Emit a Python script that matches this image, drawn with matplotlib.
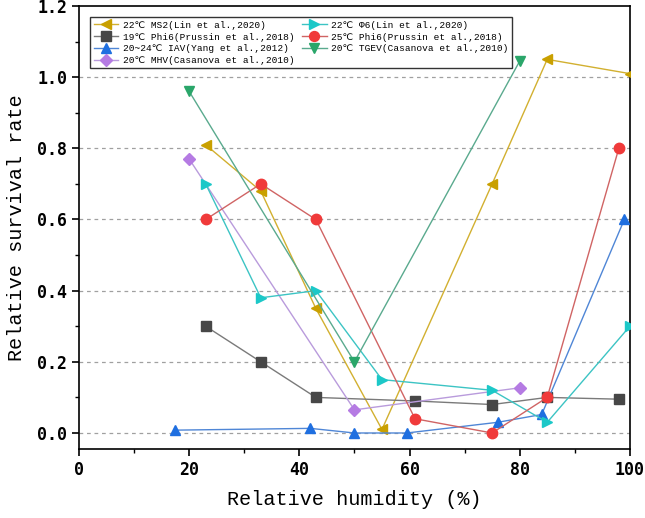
import matplotlib
matplotlib.use("Agg")
import matplotlib.pyplot as plt
from matplotlib.ticker import MultipleLocator

plt.rcParams['font.family'] = ['Liberation Mono', 'DejaVu Sans Mono', 'DejaVu Sans']

# Data
ms2_x = [23, 33, 43, 55, 75, 85, 100]
ms2_y = [0.81, 0.68, 0.35, 0.01, 0.70, 1.05, 1.01]

phi6_19_x = [23, 33, 43, 61, 75, 85, 98]
phi6_19_y = [0.30, 0.20, 0.10, 0.09, 0.08, 0.10, 0.095]

iav_x = [17.5, 42, 50, 59.5, 76, 84, 99]
iav_y = [0.008, 0.013, 0.0, 0.0, 0.03, 0.052, 0.60]

mhv_x = [20, 50, 80]
mhv_y = [0.77, 0.065, 0.127]

phi6_lin_x = [23, 33, 43, 55, 75, 85, 100]
phi6_lin_y = [0.70, 0.38, 0.40, 0.15, 0.12, 0.03, 0.30]

phi6_25_x = [23, 33, 43, 61, 75, 85, 98]
phi6_25_y = [0.60, 0.70, 0.60, 0.04, 0.0, 0.10, 0.80]

tgev_x = [20, 50, 80]
tgev_y = [0.96, 0.20, 1.045]

series = [
    (ms2_x, ms2_y, '22℃ MS2(Lin et al.,2020)', '<', '#C9A000', '#D2B030'),
    (phi6_19_x, phi6_19_y, '19℃ Phi6(Prussin et al.,2018)', 's', '#474747', '#7A7A7A'),
    (iav_x, iav_y, '20~24℃ IAV(Yang et al.,2012)', '^', '#1F6FE0', '#4F86D6'),
    (mhv_x, mhv_y, '20℃ MHV(Casanova et al.,2010)', 'D', '#B57BE3', '#B99BDC'),
    (phi6_lin_x, phi6_lin_y, '22℃ Φ6(Lin et al.,2020)', '>', '#1CC8C8', '#3CC4C4'),
    (phi6_25_x, phi6_25_y, '25℃ Phi6(Prussin et al.,2018)', 'o', '#F03A3A', '#D06464'),
    (tgev_x, tgev_y, '20℃ TGEV(Casanova et al.,2010)', 'v', '#2AA66A', '#5AAA8E'),
]

fig = plt.figure(figsize=(6.45, 5.18), dpi=100)
ax = fig.add_axes([0.1225, 0.1332, 0.854, 0.8552])

for x, y, label, marker, mcolor, lcolor in series:
    ms = 6 if marker == 'D' else 7.5
    ax.plot(x, y, color=lcolor, linewidth=1.0, marker=marker, markersize=ms,
            markerfacecolor=mcolor, markeredgecolor=mcolor, label=label, zorder=3)

ax.set_xlim(0, 100)
ax.set_ylim(-0.045, 1.2)
ax.xaxis.set_major_locator(MultipleLocator(20))
ax.xaxis.set_minor_locator(MultipleLocator(10))
ax.set_yticks([0.0, 0.2, 0.4, 0.6, 0.8, 1.0, 1.2])
ax.yaxis.set_minor_locator(MultipleLocator(0.1))
ax.tick_params(which='major', direction='out', length=5, width=1.2, labelsize=12)
ax.tick_params(which='minor', direction='out', length=3, width=1.0)
for lbl in ax.get_xticklabels() + ax.get_yticklabels():
    lbl.set_fontfamily(['DejaVu Sans Mono'])
    lbl.set_fontweight('bold')

for v in [0.0, 0.2, 0.4, 0.6, 0.8, 1.0]:
    ax.axhline(v, color='#A0A0A0', linestyle=(0, (3, 3)), linewidth=0.9, zorder=1)

for sp in ax.spines.values():
    sp.set_linewidth(1.2)

ax.set_xlabel('Relative humidity (%)', fontsize=14.5, labelpad=8)
ax.set_ylabel('Relative survival rate', fontsize=14.5, labelpad=8)

leg = ax.legend(ncol=2, loc='upper left', bbox_to_anchor=(0.012, 0.985), fontsize=6.8,
                frameon=True, fancybox=False, edgecolor='#333333', framealpha=1,
                borderpad=0.35, labelspacing=0.3, handlelength=2.6, handletextpad=0.5,
                columnspacing=0.8, markerscale=0.95)
leg.get_frame().set_linewidth(1.0)

fig.savefig('out.png', dpi=100)
